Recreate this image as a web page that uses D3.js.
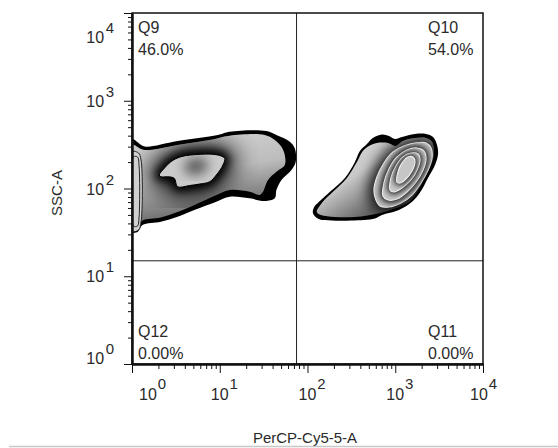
<!DOCTYPE html>
<html>
<head>
<meta charset="utf-8">
<script src="https://cdn.jsdelivr.net/npm/d3@7"></script>
<style>
  body { margin: 0; background: #fff; }
  svg text { font-family: "Liberation Sans", Arial, sans-serif; fill: #2a2a2a; }
</style>
</head>
<body>
<svg id="chart" width="558" height="448"></svg>
<script>
// axes: log decades 10^0 .. 10^4 on both channels
const decades = [0, 1, 2, 3, 4];
const minorSteps = [2, 3, 4, 5, 6, 7, 8, 9];
const xTitle = 'PerCP-Cy5-5-A';
const yTitle = 'SSC-A';

// quadrant gate and stats
const gateX = 75;
const gateY = 15;
const quadNames = ['Q9', 'Q10', 'Q11', 'Q12'];
const quadPercents = ['46.0%', '54.0%', '0.00%', '0.00%'];

// contour outlines, [log10 x, log10 y]
// PerCP negative population (Q9)
const negOuter = [[-0.05, 2.57], [0, 2.57], [0.12, 2.488], [0.177, 2.476], [0.519, 2.541], [0.976, 2.61], [1.113, 2.647],
  [1.532, 2.655], [1.646, 2.61], [1.798, 2.533], [1.855, 2.458], [1.866, 2.305], [1.817, 2.211], [1.703, 2.097],
  [1.646, 1.983], [1.627, 1.888], [1.513, 1.857], [1.341, 1.888], [1.113, 1.907], [0.961, 1.85], [0.71, 1.755],
  [0.519, 1.679], [0.329, 1.622], [0.12, 1.584], [0.063, 1.504], [0, 1.493], [-0.05, 1.49]];
const negEdge = [[-0.05, 2.51], [0, 2.507], [0.12, 2.444], [0.2, 2.439], [0.519, 2.496], [0.885, 2.553], [1.113, 2.602],
  [1.513, 2.61], [1.627, 2.553], [1.703, 2.476], [1.741, 2.382], [1.741, 2.268], [1.646, 2.191], [1.55, 2.097],
  [1.493, 1.963], [1.455, 1.926], [1.341, 1.963], [1.113, 1.983], [0.961, 1.926], [0.71, 1.812], [0.519, 1.732],
  [0.329, 1.67], [0.12, 1.635], [0.063, 1.561], [0, 1.55], [-0.05, 1.55]];
const negInner = [[0.311, 2.154], [0.371, 2.234], [0.443, 2.305], [0.557, 2.362], [0.785, 2.39], [0.976, 2.382],
  [1.056, 2.344], [1.037, 2.268], [0.961, 2.154], [0.885, 2.077], [0.771, 2.051], [0.656, 2.034], [0.519, 2.02],
  [0.482, 2.116], [0.405, 2.134], [0.329, 2.134]];
const negCore = [[0.634, 2.291], [0.748, 2.325], [0.839, 2.302], [0.816, 2.211], [0.702, 2.177], [0.622, 2.211]];
const negPileOuter = [[-0.03, 2.416], [0.074, 2.405], [0.103, 2.325], [0.103, 1.618], [0.074, 1.527], [-0.03, 1.516]];
const negPileInner = [[0.017, 2.359], [0.063, 2.359], [0.08, 2.268], [0.08, 1.664], [0.063, 1.573], [0.017, 1.573]];

// PerCP positive population (Q10)
const posOuter = [[2.061, 1.722], [2.083, 1.801], [2.118, 1.835], [2.266, 1.971], [2.426, 2.12], [2.54, 2.302],
  [2.597, 2.427], [2.677, 2.507], [2.745, 2.575], [2.848, 2.615], [2.928, 2.598], [2.997, 2.564], [3.077, 2.587],
  [3.225, 2.621], [3.351, 2.621], [3.431, 2.587], [3.476, 2.496], [3.488, 2.393], [3.453, 2.268], [3.373, 2.12],
  [3.293, 1.971], [3.202, 1.858], [3.042, 1.755], [2.848, 1.698], [2.768, 1.658], [2.505, 1.635], [2.277, 1.635],
  [2.129, 1.652]];
const posEdge = [[2.106, 1.732], [2.163, 1.835], [2.3, 1.971], [2.449, 2.12], [2.563, 2.302], [2.631, 2.427],
  [2.7, 2.484], [2.791, 2.519], [2.917, 2.519], [3.008, 2.484], [3.088, 2.541], [3.225, 2.575], [3.351, 2.575],
  [3.419, 2.53], [3.442, 2.416], [3.408, 2.268], [3.328, 2.108], [3.248, 1.96], [3.157, 1.846], [3.008, 1.778],
  [2.825, 1.722], [2.54, 1.676], [2.312, 1.676], [2.152, 1.698]];
const posRing1 = [[2.78, 1.869], [2.757, 1.983], [2.791, 2.131], [2.871, 2.291], [2.974, 2.416], [3.099, 2.484],
  [3.237, 2.519], [3.351, 2.519], [3.408, 2.461], [3.419, 2.348], [3.374, 2.211], [3.293, 2.063], [3.191, 1.926],
  [3.065, 1.835], [2.928, 1.789], [2.825, 1.801]];
const posRing2 = [[2.86, 1.914], [2.871, 2.063], [2.928, 2.222], [3.019, 2.359], [3.134, 2.439], [3.248, 2.461],
  [3.328, 2.427], [3.351, 2.336], [3.317, 2.211], [3.237, 2.074], [3.134, 1.96], [3.019, 1.88], [2.917, 1.869]];
const posRing3 = [[2.94, 1.983], [2.951, 2.12], [3.008, 2.256], [3.088, 2.359], [3.179, 2.404], [3.259, 2.393],
  [3.282, 2.325], [3.248, 2.211], [3.179, 2.097], [3.077, 2.006], [2.986, 1.96]];
const posRing4 = [[3.019, 2.074], [3.031, 2.188], [3.077, 2.291], [3.145, 2.359], [3.202, 2.359], [3.225, 2.302],
  [3.191, 2.199], [3.122, 2.108], [3.054, 2.063]];

const margin = { top: 13, left: 132 };
const size = 351;

const svg = d3.select('#chart');
const defs = svg.append('defs');

const x = d3.scaleLog().domain([1, 1e4]).range([0, size]);
const y = d3.scaleLog().domain([1, 1e4]).range([size, 0]);

const line = d3.line()
    .x(d => x(10 ** d[0]))
    .y(d => y(10 ** d[1]))
    .curve(d3.curveCatmullRomClosed.alpha(0.5));

const g = svg.append('g')
    .attr('transform', `translate(${margin.left},${margin.top})`);

defs.append('clipPath').attr('id', 'plot-clip')
  .append('rect').attr('width', size).attr('height', size);

// band shading
function addGradient(id, x2, y2, stops) {
  const lg = defs.append('linearGradient').attr('id', id)
      .attr('x1', 0).attr('y1', 0).attr('x2', x2).attr('y2', y2);
  stops.forEach(s => lg.append('stop').attr('offset', s[0]).attr('stop-color', s[1]));
}
addGradient('negBand', 0.3, 1, [[0, '#d6d6d6'], [0.5, '#bdbdbd'], [1, '#5a5a5a']]);
addGradient('posBand', 1, 1, [[0, '#dcdcdc'], [0.4, '#c8c8c8'], [0.68, '#6a6a6a'], [1, '#3a3a3a']]);

let filterCount = 0;
function blurFilter(s) {
  const id = 'blur' + (filterCount++);
  defs.append('filter').attr('id', id)
      .attr('x', '-60%').attr('y', '-60%').attr('width', '220%').attr('height', '220%')
    .append('feGaussianBlur').attr('stdDeviation', s);
  return id;
}

const plot = g.append('g').attr('clip-path', 'url(#plot-clip)');

// each level: fill, then a blurred dark halo of the next level clipped to it,
// giving the light-to-dark zebra bands
function drawPopulation(levels, name) {
  const pg = plot.append('g').attr('class', name);
  levels.forEach((lv, i) => {
    if (lv.halo) {
      const cid = `${name}-clip-${i}`;
      defs.append('clipPath').attr('id', cid)
        .append('path').attr('d', line(levels[i - 1].pts));
      const hg = pg.append('g').attr('clip-path', `url(#${cid})`);
      lv.halo.forEach(h => {
        hg.append('path')
            .attr('d', line(lv.pts))
            .attr('fill', '#000')
            .attr('stroke', '#000')
            .attr('stroke-width', h.w)
            .attr('opacity', h.o)
            .attr('filter', `url(#${blurFilter(h.s)})`);
      });
    }
    if (lv.fill) {
      pg.append('path')
          .attr('d', line(lv.pts))
          .attr('fill', lv.fill)
          .attr('stroke', lv.stroke || 'none')
          .attr('stroke-width', lv.sw || 0);
    }
  });
}

drawPopulation([
  { pts: negOuter, fill: '#000' },
  { pts: negEdge, fill: 'url(#negBand)' },
  { pts: negInner, fill: '#cbcbcb', stroke: '#000', sw: 1,
    halo: [{ s: 12, w: 22, o: 0.9 }, { s: 4, w: 8, o: 1 }] },
  { pts: negCore, halo: [{ s: 6, w: 4, o: 0.55 }] }
], 'neg');

plot.selectAll('.pile')
  .data([negPileOuter, negPileInner])
  .join('path')
    .attr('class', 'pile')
    .attr('d', line)
    .attr('fill', '#d0d0d0')
    .attr('stroke', '#111')
    .attr('stroke-width', 0.9);

drawPopulation([
  { pts: posOuter, fill: '#000' },
  { pts: posEdge, fill: 'url(#posBand)' },
  { pts: posRing1, fill: '#c9c9c9', stroke: '#e8e8e8', sw: 1.2, halo: [{ s: 7, w: 10, o: 0.9 }] },
  { pts: posRing2, fill: '#c9c9c9', stroke: '#ececec', sw: 1.2, halo: [{ s: 3.5, w: 5, o: 1 }] },
  { pts: posRing3, fill: '#c9c9c9', stroke: '#ececec', sw: 1.2, halo: [{ s: 3.2, w: 4, o: 1 }] },
  { pts: posRing4, fill: '#c6c6c6', stroke: '#ececec', sw: 1.2, halo: [{ s: 3, w: 4, o: 1 }] }
], 'pos');

// quadrant gate lines
g.append('line')
    .attr('x1', x(gateX)).attr('x2', x(gateX))
    .attr('y1', 0).attr('y2', size)
    .attr('stroke', '#222').attr('stroke-width', 1);
g.append('line')
    .attr('x1', 0).attr('x2', size)
    .attr('y1', y(gateY)).attr('y2', y(gateY))
    .attr('stroke', '#222').attr('stroke-width', 1);

// frame
g.append('rect')
    .attr('width', size).attr('height', size)
    .attr('fill', 'none').attr('stroke', '#111').attr('stroke-width', 1.5);

// axes
const majorValues = decades.map(e => 10 ** e);
const minorValues = decades.slice(0, -1).flatMap(e => minorSteps.map(m => m * 10 ** e));

function styleAxis(sel) {
  sel.select('.domain').attr('stroke', '#111').attr('stroke-width', 2);
  sel.selectAll('.tick line').attr('stroke', '#111');
}

g.append('g').attr('transform', `translate(0,${size})`)
    .call(d3.axisBottom(x).tickValues(minorValues).tickSize(5).tickSizeOuter(0).tickFormat(''))
    .call(styleAxis);
g.append('g').attr('transform', `translate(0,${size})`)
    .call(d3.axisBottom(x).tickValues(majorValues).tickSize(9).tickSizeOuter(0).tickFormat(''))
    .call(styleAxis);
g.append('g')
    .call(d3.axisLeft(y).tickValues(minorValues).tickSize(4).tickSizeOuter(0).tickFormat(''))
    .call(styleAxis);
g.append('g')
    .call(d3.axisLeft(y).tickValues(majorValues).tickSize(8).tickSizeOuter(0).tickFormat(''))
    .call(styleAxis);

// power-of-ten labels; the end labels are pushed inward like the original
const xNudge = { 0: 16, 4: -4 };
const yNudge = { 0: -6, 4: 24 };

const xl = g.append('g').selectAll('text')
  .data(decades)
  .join('text')
    .attr('x', e => x(10 ** e) - 9 + (xNudge[e] || 0))
    .attr('y', size + 36)
    .attr('font-size', 16);
xl.append('tspan').text('10');
xl.append('tspan').attr('dy', -11.5).attr('dx', 1).attr('font-size', 15).text(e => e);

const yl = g.append('g').selectAll('text')
  .data(decades)
  .join('text')
    .attr('x', -18)
    .attr('y', e => y(10 ** e) + 6 + (yNudge[e] || 0))
    .attr('text-anchor', 'end')
    .attr('font-size', 16);
yl.append('tspan').text('10');
yl.append('tspan').attr('dy', -10).attr('dx', 1.5).attr('font-size', 15).text(e => e);

// quadrant labels: Q9 top-left, Q10 top-right, Q11 bottom-right, Q12 bottom-left
const quadPos = [
  { qx: 6, top: true },
  { qx: size - 55, top: true },
  { qx: size - 55, top: false },
  { qx: 6, top: false }
];
quadNames.forEach((name, i) => {
  const p = quadPos[i];
  const y1 = p.top ? 20 : size - 27;
  g.append('text').attr('x', p.qx).attr('y', y1).attr('font-size', 16).text(name);
  g.append('text').attr('x', p.qx).attr('y', y1 + 22).attr('font-size', 16).text(quadPercents[i]);
});

// axis titles
svg.append('text')
    .attr('x', 305).attr('y', 443)
    .attr('text-anchor', 'middle')
    .attr('font-size', 15)
    .text(xTitle);
svg.append('text')
    .attr('transform', 'translate(62,193) rotate(-90)')
    .attr('text-anchor', 'middle')
    .attr('font-size', 15)
    .text(yTitle);

svg.append('line')
    .attr('x1', 9).attr('x2', 558)
    .attr('y1', 446.5).attr('y2', 446.5)
    .attr('stroke', '#c8c8c8').attr('stroke-width', 1.5);
</script>
</body>
</html>
